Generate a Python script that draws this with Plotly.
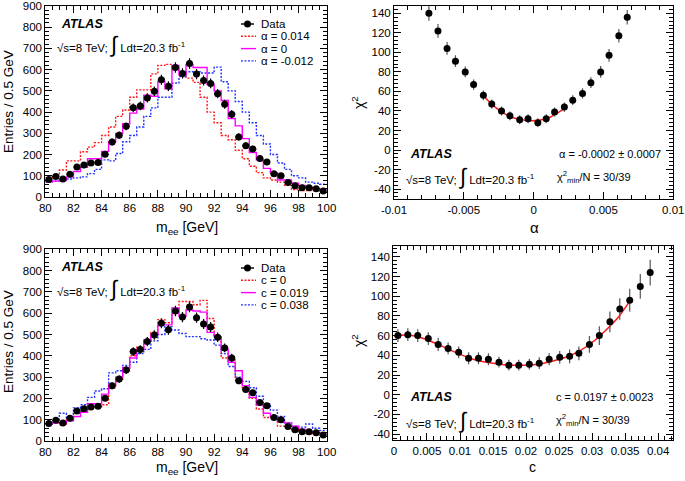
import numpy as np
import plotly.graph_objects as go

W, H = 685, 481
FONT = "Liberation Sans, Arial, sans-serif"
RED = "#FF1A1A"
MAGENTA = "#FF00FF"
BLUE = "#2233FF"
DOT = "2px,1.5px"

# ---- m_ee histograms (0.5 GeV bins, 80-100 GeV)
bin_edges = np.arange(80.0, 100.01, 0.5)
data_y = [82, 97, 85, 107, 141, 151, 160, 163, 201, 259, 291, 333, 420, 429, 467, 498,
          553, 522, 610, 582, 629, 579, 549, 535, 487, 437, 390, 283, 242, 226, 181, 165,
          110, 100, 68, 53, 44, 44, 39, 28]

alpha_p014 = [90, 100, 127, 170, 170, 213, 235, 256, 290, 330, 380, 410, 470, 505, 505, 580,
              620, 625, 600, 590, 560, 540, 470, 400, 350, 290, 270, 220, 180, 145, 115, 90,
              80, 70, 55, 35, 30, 30, 35, 30]
alpha_0 = [72, 75, 80, 95, 120, 140, 180, 180, 215, 260, 300, 345, 395, 415, 480, 475,
           545, 510, 620, 575, 625, 610, 610, 530, 500, 455, 370, 335, 275, 210, 175, 135,
           115, 80, 80, 65, 55, 45, 40, 35]
alpha_m012 = [70, 75, 78, 85, 90, 95, 110, 130, 175, 170, 205, 260, 290, 330, 380, 420,
              470, 470, 537, 567, 590, 590, 584, 584, 612, 543, 500, 450, 400, 350, 290, 250,
              200, 160, 130, 100, 90, 70, 65, 60]

c_0 = [80, 85, 75, 100, 130, 140, 160, 160, 170, 250, 290, 330, 400, 440, 470, 510,
       570, 555, 600, 655, 655, 640, 660, 575, 490, 390, 380, 290, 240, 200, 150, 110,
       110, 70, 70, 45, 50, 35, 40, 30]
c_0019 = [80, 85, 85, 95, 115, 135, 175, 175, 220, 265, 300, 345, 390, 430, 475, 500,
          545, 545, 625, 585, 615, 610, 605, 510, 490, 430, 370, 330, 260, 205, 170, 130,
          115, 90, 85, 70, 55, 45, 40, 35]
c_0038 = [80, 95, 130, 110, 155, 170, 205, 235, 245, 320, 330, 355, 370, 410, 430, 470,
          500, 537, 521, 505, 490, 490, 480, 474, 450, 410, 350, 300, 280, 250, 210, 175,
          145, 115, 85, 70, 65, 80, 60, 50]

# ---- chi2 scans
alpha_x = [-0.0075, -0.00685, -0.0062, -0.0056, -0.0049, -0.0043, -0.0036, -0.0030, -0.0023,
           -0.0017, -0.0010, -0.0004, 0.0003, 0.0009, 0.0015, 0.0022, 0.0028, 0.0035, 0.0041,
           0.0048, 0.0054, 0.0061, 0.0067]
alpha_chi2 = [140, 122, 104, 91, 80, 67, 56, 47, 40, 35, 31, 32, 28, 32, 39, 44, 51, 58, 69,
              80, 97, 117, 136]
alpha_err = [7.7, 7, 6.5, 6, 5.5, 5.2, 5, 4.8, 4.6, 4.5, 4.5, 4.5, 4.5, 4.5, 4.6, 4.7, 5, 5.2,
             5.5, 6, 6.5, 7, 7.5]
alpha_fit_x = [-0.0036, -0.0030, -0.0024, -0.0018, -0.0012, -0.0006, -0.0002, 0.0004, 0.0010,
               0.0016, 0.0023]
alpha_fit_y = [55.5, 47, 40, 35, 32, 30.5, 30, 30.5, 32.5, 37, 43.5]

c_x = [0.0006, 0.0021, 0.0036, 0.0052, 0.0067, 0.0082, 0.0098, 0.0113, 0.0128, 0.0143, 0.0159,
       0.0174, 0.0189, 0.0205, 0.0220, 0.0235, 0.0251, 0.0266, 0.0280, 0.0296, 0.0311, 0.0327,
       0.0342, 0.0357, 0.0373, 0.0388]
c_chi2 = [60, 61, 60, 57, 51, 47, 43, 37, 37, 36, 33, 30, 30, 31, 32, 36, 38, 39, 42, 51, 60,
          74, 87, 96, 110, 124]
c_err = [6.5, 6.5, 6.5, 6.5, 6.5, 6, 6, 6, 6, 6, 5.5, 5.5, 5.5, 5.5, 6, 6, 6.5, 7, 7, 8.5,
         9.5, 10.5, 11, 11.5, 12.5, 13]
c_fit_x = [0.0, 0.002, 0.004, 0.006, 0.008, 0.010, 0.012, 0.014, 0.016, 0.018, 0.020, 0.022,
           0.024, 0.026, 0.028, 0.030, 0.032, 0.034, 0.0357]
c_fit_y = [59.5, 60.5, 58, 53, 47, 41, 36, 33, 31, 30, 30, 31, 34, 38, 44, 53, 65, 79, 95]

alpha_ticks = [-0.01, -0.005, 0, 0.005, 0.01]
alpha_ticktext = ["-0.01", "-0.005", "0", "0.005", "0.01"]
chi2_ticks = [-40, -20, 0, 20, 40, 60, 80, 100, 120, 140]
chi2_ticktext = ["-40", "-20", "0", "20", "40", "60", "80", "100", "120", "140"]


def P(x, y):
    return x / W, 1 - y / H


def step(values):
    return list(values) + [values[-1]]


fig = go.Figure()


def add_hist(xa, ya, series):
    for vals, color, dash in series:
        fig.add_trace(go.Scatter(
            x=bin_edges, y=step(vals), mode="lines", line_shape="hv",
            line=dict(color=color, width=1.4, dash=dash),
            xaxis=xa, yaxis=ya, showlegend=False, hoverinfo="skip"))
    fig.add_trace(go.Scatter(
        x=bin_edges[:-1] + 0.25, y=data_y, mode="markers",
        marker=dict(color="black", size=7),
        error_y=dict(type="data", array=np.sqrt(data_y), color="black", thickness=1.2, width=0),
        error_x=dict(type="constant", value=0.25, color="black", thickness=1.2, width=0),
        xaxis=xa, yaxis=ya, showlegend=False))


def add_scan(xa, ya, x, y, err, fx, fy):
    fig.add_trace(go.Scatter(
        x=fx, y=fy, mode="lines", line=dict(color=RED, width=1.5, shape="spline"),
        xaxis=xa, yaxis=ya, showlegend=False))
    fig.add_trace(go.Scatter(
        x=x, y=y, mode="markers", marker=dict(color="black", size=7),
        error_y=dict(type="data", array=err, color="#555555", thickness=1.2, width=0),
        xaxis=xa, yaxis=ya, showlegend=False))


add_hist("x", "y", [(alpha_p014, RED, DOT), (alpha_m012, BLUE, DOT),
                    (alpha_0, MAGENTA, "solid")])
add_scan("x2", "y2", alpha_x, alpha_chi2, alpha_err, alpha_fit_x, alpha_fit_y)
add_hist("x3", "y3", [(c_0, RED, DOT), (c_0038, BLUE, DOT),
                      (c_0019, MAGENTA, "solid")])
add_scan("x4", "y4", c_x, c_chi2, c_err, c_fit_x, c_fit_y)


def axis(domain, rng, anchor, dtick=None, minor=None, tickvals=None, ticktext=None):
    ax = dict(domain=domain, range=rng, anchor=anchor, showline=True, linecolor="black",
              linewidth=1, mirror="allticks", ticks="inside", ticklen=7, tickcolor="black",
              showgrid=False, zeroline=False, automargin=False,
              tickfont=dict(size=11.5, color="black", family=FONT),
              minor=dict(ticks="inside", ticklen=4, tickcolor="black", dtick=minor, tick0=0,
                         showgrid=False))
    if tickvals is not None:
        ax.update(tickmode="array", tickvals=tickvals, ticktext=ticktext)
    else:
        ax.update(dtick=dtick, tick0=0)
    return ax


xl = [45.3 / W, 326.7 / W]
fig.update_layout(
    width=W, height=H, margin=dict(l=0, r=0, t=0, b=0, autoexpand=False),
    paper_bgcolor="white", plot_bgcolor="white",
    font=dict(family=FONT, color="black"),
    xaxis=axis(xl, [80, 100], "y", dtick=2, minor=0.5),
    yaxis=axis([1 - 197 / H, 1 - 6 / H], [0, 900], "x", dtick=100, minor=20),
    xaxis2=axis([394 / W, 673.3 / W], [-0.01, 0.01], "y2", minor=0.001,
                tickvals=alpha_ticks, ticktext=alpha_ticktext),
    yaxis2=axis([1 - 199.3 / H, 1 - 6 / H], [-50.5, 147.5], "x2", minor=4,
                tickvals=chi2_ticks, ticktext=chi2_ticktext),
    xaxis3=axis(xl, [80, 100], "y3", dtick=2, minor=0.5),
    yaxis3=axis([1 - 441 / H, 1 - 249.3 / H], [0, 900], "x3", dtick=100, minor=20),
    xaxis4=axis([393.3 / W, 673.3 / W], [-0.0001, 0.0423], "y4", dtick=0.005, minor=0.001),
    yaxis4=axis([1 - 440 / H, 1 - 246 / H], [-46, 151], "x4", minor=4,
                tickvals=chi2_ticks, ticktext=chi2_ticktext),
)

ann = []
shapes = []


def text(x, y, s, size=12, xanchor="left", angle=0):
    px, py = P(x, y)
    ann.append(dict(x=px, y=py, xref="paper", yref="paper", text=s, showarrow=False,
                    xanchor=xanchor, yanchor="middle", textangle=angle,
                    font=dict(size=size, family=FONT, color="black")))


lumi = '√s=8 TeV; <span style="font-size:22px">∫</span> Ldt=20.3 fb<sup>-1</sup>'

# ATLAS labels
for x, y1, y2 in [(59, 24, 45), (59, 267, 288), (408, 154, 177), (408, 397, 420)]:
    text(x, y1, "<b><i>ATLAS</i></b>", size=12.5)
    text(x - 4, y2, lumi, size=11.5)

text(557, 154, "α = -0.0002 ± 0.0007", size=11)
text(555, 177, "χ<sup>2</sup><sub>min</sub>/N = 30/39", size=11)
text(554, 397, "c = 0.0197 ± 0.0023", size=11)
text(554, 420, "χ<sup>2</sup><sub>min</sub>/N = 30/39", size=11)

# axis titles
for yc in (102, 342):
    text(8, yc, "Entries / 0.5 GeV", size=13.5, xanchor="center", angle=-90)
for yc in (103, 341):
    text(358, yc, "χ<sup>2</sup>", size=14, xanchor="center", angle=-90)
text(187, 228, "m<sub>ee</sub> [GeV]", size=14, xanchor="center")
text(187, 468, "m<sub>ee</sub> [GeV]", size=14, xanchor="center")
text(534, 227, "α", size=15, xanchor="center")
text(532, 467, "c", size=14, xanchor="center")


# legends
def legend(y0, labels):
    x0, x1, xt = 241, 256, 259
    shapes.append(dict(type="line", xref="paper", yref="paper",
                       x0=x0 / W, x1=(x1 - 2) / W, y0=1 - y0 / H, y1=1 - y0 / H,
                       line=dict(color="black", width=1.4)))
    cx, cy = (x0 + x1 - 2) / 2, y0
    shapes.append(dict(type="circle", xref="paper", yref="paper",
                       x0=(cx - 3.5) / W, x1=(cx + 3.5) / W,
                       y0=1 - (cy + 3.5) / H, y1=1 - (cy - 3.5) / H,
                       fillcolor="black", line=dict(color="black", width=0)))
    text(xt, y0, "Data", size=11.5)
    for i, (lab, color, dash) in enumerate(labels):
        yy = y0 + 12.3 * (i + 1)
        shapes.append(dict(type="line", xref="paper", yref="paper",
                           x0=x0 / W, x1=x1 / W, y0=1 - yy / H, y1=1 - yy / H,
                           line=dict(color=color, width=1.4, dash=dash)))
        text(xt, yy, lab, size=11.5)


legend(24, [("α = 0.014", RED, DOT), ("α = 0", MAGENTA, "solid"),
            ("α = -0.012", BLUE, DOT)])
legend(268, [("c = 0", RED, DOT), ("c = 0.019", MAGENTA, "solid"),
             ("c = 0.038", BLUE, DOT)])

fig.update_layout(annotations=ann, shapes=shapes)
# page body has a default 8px margin; remove it so the figure fills the window
fig.write_html("out.html", config={"displayModeBar": False},
               post_script="document.body.style.margin='0';")
